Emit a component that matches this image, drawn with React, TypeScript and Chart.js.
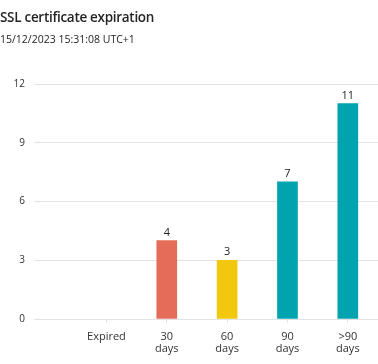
import React, { useEffect, useRef } from "react";
import { Chart, registerables } from "chart.js";

Chart.register(...registerables);

const categories: (string | string[])[] = ["Expired", ["30", "days"], ["60", "days"], ["90", "days"], [">90", "days"]];
const counts: (number | null)[] = [null, 4, 3, 7, 11];
const barColors = ["#00A2AD", "#E66C5A", "#F2C80F", "#01A3AE", "#01A3AE"];
const yTicks = [0, 3, 6, 9, 12];
const titleText = "SSL certificate expiration";
const subtitleText = "15/12/2023 15:31:08 UTC+1";

const FONT = "'Open Sans', 'Noto Sans', sans-serif";

const valueLabels = {
  id: "valueLabels",
  afterDatasetsDraw(chart: any) {
    const ctx = chart.ctx;
    const meta = chart.getDatasetMeta(0);
    ctx.save();
    ctx.font = `11px ${FONT}`;
    ctx.fillStyle = "#252423";
    ctx.textAlign = "center";
    ctx.textBaseline = "middle";
    meta.data.forEach((el: any, i: number) => {
      const v = counts[i];
      if (v === null || v === undefined) return;
      ctx.fillText(String(v), el.x, el.y - 8);
    });
    ctx.restore();
  },
};

export default function App() {
  const ref = useRef<HTMLCanvasElement>(null);
  useEffect(() => {
    document.body.style.margin = "0";
    const data = counts.map((v, i) => ({ x: i, y: v }));
    const chart = new Chart(ref.current!, {
      type: "bar",
      data: {
        datasets: [
          {
            data: data as any,
            backgroundColor: barColors,
            barThickness: 20,
          },
        ],
      },
      plugins: [valueLabels],
      options: {
        animation: false,
        responsive: false,
        maintainAspectRatio: false,
        layout: { padding: { top: 84, right: 0, left: 0, bottom: 0 } },
        plugins: { legend: { display: false }, tooltip: { enabled: false } },
        scales: {
          x: {
            type: "linear",
            offset: false,
            min: -1.2,
            max: 4.5,
            afterBuildTicks: (axis: any) => {
              axis.ticks = categories.map((_, i) => ({ value: i }));
            },
            afterFit: (axis: any) => {
              axis.height = 45;
            },
            grid: { offset: false, drawOnChartArea: false, drawTicks: true, tickLength: 4, color: "#e3e3e3" },
            border: { display: false },
            ticks: {
              autoSkip: false,
              maxRotation: 0,
              padding: 8,
              color: "#333333",
              font: { family: FONT, size: 11, lineHeight: 1.1 },
              callback: (v: any) => categories[Number(v)] as any,
            },
          },
          y: {
            min: 0,
            max: 12,
            afterBuildTicks: (axis: any) => {
              axis.ticks = yTicks.map((v) => ({ value: v }));
            },
            afterFit: (axis: any) => {
              axis.width = 34;
            },
            grid: { color: "#e3e3e3", drawTicks: false },
            border: { display: false },
            ticks: {
              padding: 9,
              color: "#333333",
              font: { family: FONT, size: 10 },
            },
          },
        },
      },
    });
    return () => chart.destroy();
  }, []);
  return (
    <div style={{ position: "relative", width: 378, height: 364, fontFamily: FONT }}>
      <div style={{ position: "absolute", left: 0, top: 8, fontSize: 13.5, fontWeight: 600, letterSpacing: -0.3, color: "#252423", whiteSpace: "nowrap" }}>
        {titleText}
      </div>
      <div style={{ position: "absolute", left: 0, top: 32, fontSize: 10.5, color: "#252423", whiteSpace: "nowrap" }}>
        {subtitleText}
      </div>
      <canvas ref={ref} width={378} height={364} style={{ display: "block" }} />
    </div>
  );
}
